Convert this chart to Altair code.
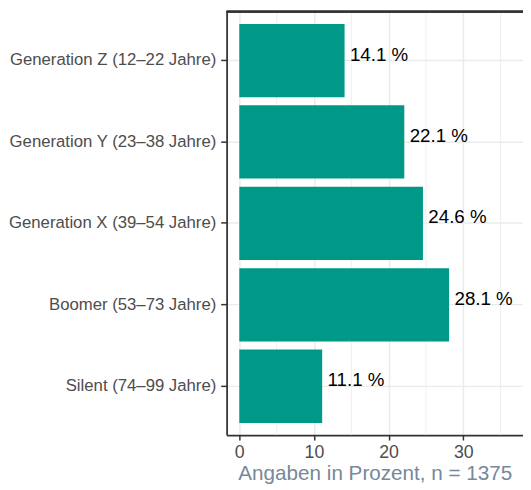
import altair as alt
import pandas as pd

categories = [
    "Generation Z (12–22 Jahre)",
    "Generation Y (23–38 Jahre)",
    "Generation X (39–54 Jahre)",
    "Boomer (53–73 Jahre)",
    "Silent (74–99 Jahre)",
]
values = [14.1, 22.1, 24.6, 28.1, 11.1]
major_ticks = [0, 10, 20, 30]
minor_ticks = [5, 15, 25, 35]
x_title = "Angaben in Prozent, n = 1375"

df = pd.DataFrame({"gen": categories, "value": values})
df_minor = pd.DataFrame({"m": minor_ticks})

W, H = 301, 430
FONT = "Liberation Sans"
xscale = alt.Scale(domain=[-1.7, 38.0], nice=False, zero=False)
yscale = alt.Scale(domain=categories, paddingInner=0.1, paddingOuter=0.15)

minor = alt.Chart(df_minor).mark_rule(color="#EBEBEB", strokeWidth=0.8).encode(
    x=alt.X("m:Q", scale=xscale)
)

xaxis = alt.Axis(
    values=major_ticks, grid=True, gridColor="#EBEBEB", gridWidth=1.5,
    domainColor="#333333", domainWidth=1.8, tickColor="#333333", tickWidth=1.5,
    tickSize=5, labelFont=FONT, labelFontSize=18, labelColor="#4D4D4D",
    labelPadding=4, title=x_title, titleFont=FONT, titleFontSize=21,
    titleFontWeight="normal", titleColor="#778899",
    titleBaseline="alphabetic", titleY=45,
)
yaxis = alt.Axis(
    grid=True, gridColor="#EBEBEB", gridWidth=1.5,
    domainColor="#333333", domainWidth=1.8, tickColor="#333333", tickWidth=1.5,
    tickSize=6, labelFont=FONT, labelFontSize=17, labelColor="#4D4D4D",
    labelPadding=5, labelLimit=0, title=None,
)

bars = alt.Chart(df).mark_bar(color="#009988").encode(
    x=alt.X("value:Q", scale=xscale, axis=xaxis),
    y=alt.Y("gen:N", scale=yscale, axis=yaxis, sort=categories),
)

labels = alt.Chart(df).transform_calculate(
    lab="format(datum.value, '.1f') + ' %'"
).mark_text(
    align="left", baseline="alphabetic", dx=5.5, dy=0, font=FONT, fontSize=19, color="#000000"
).encode(
    x=alt.X("value:Q", scale=xscale),
    y=alt.Y("gen:N", scale=yscale, sort=categories),
    text="lab:N",
)

top_border = alt.Chart(df).mark_rule(color="#333333", strokeWidth=1.8).encode(
    x=alt.value(0), x2=alt.value(W + 20), y=alt.value(0)
)

chart = alt.layer(minor, bars, labels, top_border).properties(
    width=W, height=H,
    autosize=alt.AutoSizeParams(type="none"),
    padding={"left": 222, "top": 0, "right": 0, "bottom": 52},
).configure_view(strokeWidth=0)

chart.save("out.html", embed_options={"renderer": "svg", "actions": False})
